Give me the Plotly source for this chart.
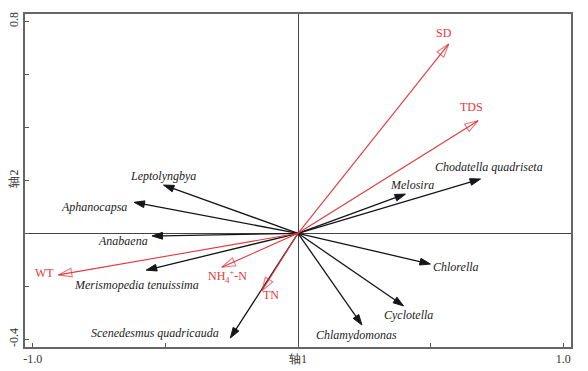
import plotly.graph_objects as go

# Species scores (arrow tips)
species = ["Leptolyngbya", "Aphanocapsa", "Anabaena", "Merismopedia tenuissima",
           "Scenedesmus quadricauda", "Chlamydomonas", "Cyclotella", "Chlorella",
           "Melosira", "Chodatella quadriseta"]
sp_x = [-0.507, -0.618, -0.550, -0.572, -0.255, 0.241, 0.398, 0.499, 0.405, 0.688]
sp_y = [0.182, 0.117, -0.010, -0.139, -0.395, -0.346, -0.274, -0.116, 0.148, 0.205]

# Environmental variables (arrow tips)
env = ["SD", "TDS", "WT", "NH<sub>4</sub><sup>+</sup>-N", "TN"]
env_x = [0.568, 0.679, -0.903, -0.287, -0.136]
env_y = [0.714, 0.425, -0.157, -0.128, -0.217]

# Axis ticks
x_ticks = [-1.0, -0.5, 0.0, 0.5, 1.0]
x_ticktext = ["-1.0", "", "轴1", "", "1.0"]
y_ticks = [-0.4, -0.2, 0.0, 0.2, 0.4, 0.6, 0.8]
y_ticktext = ["-0.4", "", "", "轴2", "", "", "0.8"]

# Label placement (pixel shifts from arrow tip, anchor)
sp_label = {
    "Leptolyngbya": (0, 9, "center"),
    "Aphanocapsa": (-5, -5, "right"),
    "Anabaena": (-2, -5, "right"),
    "Merismopedia tenuissima": (-10, -15, "center"),
    "Scenedesmus quadricauda": (-9, 5, "right"),
    "Chlamydomonas": (-5, -10, "center"),
    "Cyclotella": (5, -9, "center"),
    "Chlorella": (1, -3, "left"),
    "Melosira": (7, 9, "center"),
    "Chodatella quadriseta": (8, 12, "center"),
}
env_label = [(-5, 11, "center"), (-7, 14, "center"), (-2, 2, "right"),
             (6, -9, "center"), (9, -4, "center")]

RED = "#e3383d"
BLACK = "#15151a"
FONT = "Liberation Serif, Times New Roman, DejaVu Serif, serif"

fig = go.Figure()

for name, x, y in zip(species, sp_x, sp_y):
    fig.add_trace(go.Scatter(
        x=[0, x], y=[0, y], mode="lines+markers",
        line=dict(color=BLACK, width=1.3),
        marker=dict(symbol=["circle", "arrow"], size=[0, 11], color=BLACK,
                    opacity=1, angleref="previous",
                    line=dict(width=1, color=BLACK)),
        hoverinfo="skip", showlegend=False))

for name, x, y in zip(env, env_x, env_y):
    fig.add_trace(go.Scatter(
        x=[0, x], y=[0, y], mode="lines+markers",
        line=dict(color=RED, width=1.1),
        marker=dict(symbol=["circle", "arrow-open"], size=[0, 14], color=RED,
                    angleref="previous", line=dict(width=1.1, color=RED)),
        hoverinfo="skip", showlegend=False))

annotations = []
for name, x, y in zip(species, sp_x, sp_y):
    xs, ys, xa = sp_label[name]
    annotations.append(dict(x=x, y=y, xref="x", yref="y", text=f"<i>{name}</i>",
                            showarrow=False, xshift=xs, yshift=ys, xanchor=xa,
                            yanchor="middle",
                            font=dict(family=FONT, size=12, color="#222")))
for (name, x, y), (xs, ys, xa) in zip(zip(env, env_x, env_y), env_label):
    annotations.append(dict(x=x, y=y, xref="x", yref="y", text=name,
                            showarrow=False, xshift=xs, yshift=ys, xanchor=xa,
                            yanchor="middle",
                            font=dict(family=FONT, size=12, color=RED)))

fig.update_layout(
    width=588, height=371,
    margin=dict(l=25, r=17, t=14, b=24, autoexpand=False),
    paper_bgcolor="white", plot_bgcolor="white",
    annotations=annotations,
    font=dict(family=FONT, size=12, color="#333"),
    xaxis=dict(range=[-1.029, 1.029], tickvals=x_ticks, ticktext=x_ticktext,
               ticks="inside", ticklen=4, tickcolor="#555", showgrid=False,
               showline=True, mirror=True, linecolor="#666", linewidth=1.5,
               zeroline=True, zerolinecolor="#444", zerolinewidth=1,
               automargin=False,
               tickfont=dict(family=FONT, size=12, color="#333")),
    yaxis=dict(range=[-0.429, 0.8275], tickvals=y_ticks, ticktext=y_ticktext,
               ticks="inside", ticklen=4, tickcolor="#555", showgrid=False,
               showline=True, mirror=True, linecolor="#666", linewidth=1.5,
               zeroline=True, zerolinecolor="#444", zerolinewidth=1,
               tickangle=-90, automargin=False,
               tickfont=dict(family=FONT, size=12, color="#333")),
)

fig.write_html("out.html",
               config={"displayModeBar": False},
               post_script="document.body.style.margin='0';"
                           "document.body.style.overflow='hidden';")
